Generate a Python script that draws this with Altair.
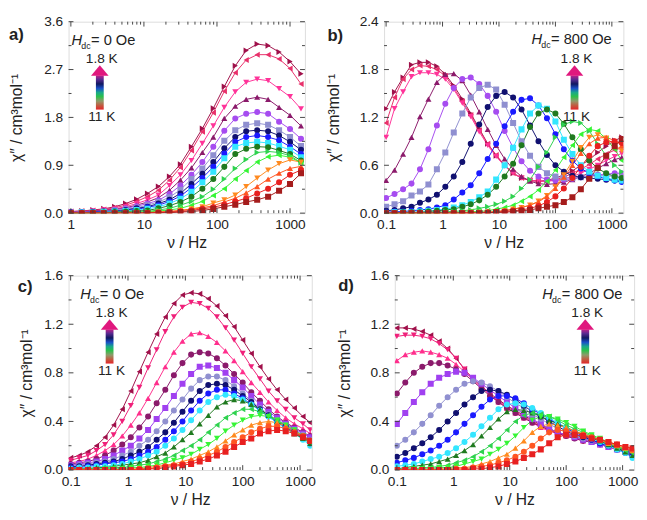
import altair as alt
import pandas as pd

FONT = "Liberation Sans"
INK = "#222222"
TICK = "#444444"

# ---------------- data ----------------
freq_a = [1, 1.41, 2, 2.82, 3.98, 5.62, 7.94, 11.2, 15.8, 22.4, 31.6, 44.7, 63.1, 89.1,
          126, 178, 251, 355, 501, 708, 1000, 1413]
freq_bcd = [0.1, 0.141, 0.2, 0.282, 0.398, 0.562, 0.794, 1.12, 1.58, 2.24, 3.16, 4.47, 6.31,
            8.91, 12.6, 17.8, 25.1, 35.5, 50.1, 70.8, 100, 141, 200, 282, 398, 562, 794, 1122, 1500]

colors_16 = ["#a0104a", "#e8306a", "#ff3399", "#8b1a6b", "#a64cf0", "#8f8fd0", "#101070", "#1a1aff",
             "#33e6ff", "#1f7a1f", "#2fd24f", "#36f536", "#ff8a1f", "#ff5522", "#e82020", "#a51c1c"]
shapes_16 = ["triangle-right", "triangle-left", "triangle-down", "triangle-up", "circle", "square",
             "circle", "circle", "square", "circle", "triangle-right", "triangle-left",
             "triangle-down", "triangle-up", "circle", "square"]
colors_15 = ["#a0104a", "#f0207a", "#ff2e8c", "#8b1a6b", "#a040f0", "#9090d0", "#101070", "#1a1aff",
             "#33e6ff", "#1f7a1f", "#2fd24f", "#36f536", "#ff8a1f", "#ff5522", "#e82020"]
shapes_15 = ["triangle-left", "triangle-down", "triangle-up", "circle", "square", "circle", "circle",
             "circle", "circle", "triangle-up", "triangle-left", "triangle-down", "triangle-up",
             "circle", "square"]

chi_a = [
    [0.03, 0.04, 0.06, 0.08, 0.12, 0.18, 0.26, 0.37, 0.5, 0.69, 0.92, 1.25, 1.59, 1.97, 2.38, 2.77, 3.06, 3.18, 3.15, 3.03, 2.85, 2.62],
    [0.03, 0.04, 0.05, 0.07, 0.1, 0.15, 0.22, 0.31, 0.43, 0.62, 0.86, 1.18, 1.53, 1.89, 2.29, 2.64, 2.88, 2.98, 2.98, 2.9, 2.72, 2.43],
    [0.02, 0.03, 0.04, 0.06, 0.08, 0.12, 0.18, 0.25, 0.34, 0.52, 0.72, 0.99, 1.31, 1.64, 1.99, 2.28, 2.46, 2.52, 2.49, 2.34, 2.19, 1.96],
    [0.02, 0.03, 0.04, 0.05, 0.07, 0.1, 0.15, 0.21, 0.29, 0.43, 0.62, 0.85, 1.14, 1.43, 1.78, 2.01, 2.14, 2.18, 2.14, 1.99, 1.84, 1.64],
    [0.02, 0.02, 0.03, 0.04, 0.06, 0.09, 0.13, 0.18, 0.24, 0.36, 0.52, 0.72, 0.96, 1.25, 1.55, 1.78, 1.87, 1.9, 1.87, 1.72, 1.58, 1.4],
    [0.01, 0.02, 0.02, 0.03, 0.05, 0.07, 0.1, 0.15, 0.21, 0.3, 0.44, 0.64, 0.84, 1.09, 1.36, 1.56, 1.66, 1.69, 1.66, 1.56, 1.43, 1.26],
    [0.01, 0.01, 0.02, 0.03, 0.04, 0.06, 0.09, 0.12, 0.18, 0.25, 0.37, 0.55, 0.74, 0.96, 1.22, 1.43, 1.54, 1.56, 1.54, 1.46, 1.34, 1.19],
    [0.01, 0.01, 0.02, 0.02, 0.03, 0.05, 0.07, 0.11, 0.15, 0.22, 0.32, 0.48, 0.66, 0.87, 1.12, 1.34, 1.43, 1.46, 1.43, 1.37, 1.25, 1.11],
    [0.0, 0.01, 0.01, 0.02, 0.03, 0.04, 0.06, 0.08, 0.12, 0.18, 0.27, 0.4, 0.58, 0.78, 1.03, 1.25, 1.32, 1.34, 1.32, 1.26, 1.19, 1.05],
    [0, 0, 0.01, 0.01, 0.02, 0.03, 0.04, 0.05, 0.09, 0.14, 0.21, 0.31, 0.46, 0.64, 0.87, 1.11, 1.21, 1.25, 1.24, 1.18, 1.11, 0.99],
    [0, 0, 0, 0.01, 0.01, 0.02, 0.02, 0.03, 0.06, 0.09, 0.15, 0.22, 0.31, 0.45, 0.64, 0.84, 1.01, 1.14, 1.16, 1.14, 1.08, 0.95],
    [0, 0, 0, 0, 0.01, 0.01, 0.02, 0.02, 0.04, 0.06, 0.09, 0.15, 0.22, 0.33, 0.46, 0.64, 0.8, 0.96, 1.06, 1.09, 1.05, 0.95],
    [0, 0, 0, 0, 0, 0, 0.01, 0.01, 0.02, 0.03, 0.05, 0.08, 0.12, 0.19, 0.25, 0.34, 0.5, 0.66, 0.81, 0.93, 1.0, 0.96],
    [0, 0, 0, 0, 0, 0, 0, 0.01, 0.02, 0.03, 0.05, 0.07, 0.1, 0.14, 0.21, 0.28, 0.38, 0.5, 0.64, 0.75, 0.84, 0.88],
    [0, 0, 0, 0, 0, 0, 0, 0, 0.01, 0.02, 0.03, 0.05, 0.08, 0.11, 0.16, 0.22, 0.28, 0.37, 0.46, 0.58, 0.72, 0.81],
    [0, 0, 0, 0, 0, 0, 0, 0, 0, 0.01, 0.02, 0.03, 0.05, 0.08, 0.12, 0.16, 0.21, 0.25, 0.31, 0.42, 0.55, 0.75],
]

chi_b = [
    [1.31, 1.52, 1.7, 1.86, 1.89, 1.89, 1.84, 1.74, 1.6, 1.43, 1.25, 1.06, 0.87, 0.72, 0.6, 0.5, 0.44, 0.41, 0.4, 0.41, 0.44, 0.48, 0.53, 0.6, 0.67, 0.76, 0.84, 0.91, 0.95],
    [1.13, 1.45, 1.68, 1.8, 1.85, 1.84, 1.8, 1.72, 1.57, 1.4, 1.23, 1.04, 0.87, 0.73, 0.6, 0.5, 0.44, 0.41, 0.4, 0.4, 0.42, 0.45, 0.5, 0.55, 0.61, 0.68, 0.74, 0.79, 0.82],
    [0.95, 1.31, 1.52, 1.71, 1.76, 1.76, 1.74, 1.68, 1.55, 1.38, 1.21, 1.02, 0.85, 0.71, 0.59, 0.5, 0.44, 0.41, 0.4, 0.4, 0.41, 0.43, 0.46, 0.5, 0.55, 0.6, 0.66, 0.71, 0.75],
    [0.41, 0.54, 0.74, 0.95, 1.21, 1.43, 1.64, 1.74, 1.75, 1.66, 1.48, 1.27, 1.05, 0.85, 0.68, 0.55, 0.46, 0.4, 0.37, 0.36, 0.37, 0.39, 0.42, 0.46, 0.5, 0.56, 0.62, 0.67, 0.7],
    [0.19, 0.24, 0.3, 0.37, 0.55, 0.8, 1.1, 1.37, 1.57, 1.68, 1.7, 1.62, 1.47, 1.27, 1.03, 0.82, 0.65, 0.53, 0.46, 0.42, 0.41, 0.42, 0.43, 0.45, 0.47, 0.48, 0.49, 0.5, 0.5],
    [0.08, 0.11, 0.15, 0.22, 0.27, 0.36, 0.55, 0.76, 1.01, 1.25, 1.45, 1.57, 1.61, 1.55, 1.36, 1.13, 0.9, 0.72, 0.58, 0.5, 0.46, 0.44, 0.44, 0.45, 0.46, 0.47, 0.47, 0.46, 0.45],
    [0.03, 0.04, 0.06, 0.08, 0.13, 0.17, 0.23, 0.33, 0.46, 0.64, 0.87, 1.11, 1.33, 1.47, 1.52, 1.45, 1.3, 1.1, 0.9, 0.73, 0.6, 0.52, 0.47, 0.45, 0.44, 0.43, 0.42, 0.41, 0.4],
    [0.01, 0.02, 0.02, 0.03, 0.04, 0.05, 0.07, 0.1, 0.17, 0.26, 0.35, 0.5, 0.68, 0.87, 1.09, 1.27, 1.42, 1.44, 1.35, 1.19, 0.99, 0.8, 0.66, 0.56, 0.5, 0.46, 0.43, 0.41, 0.39],
    [0, 0.01, 0.01, 0.01, 0.02, 0.03, 0.04, 0.05, 0.07, 0.1, 0.14, 0.2, 0.27, 0.42, 0.6, 0.82, 1.05, 1.25, 1.35, 1.31, 1.15, 0.92, 0.74, 0.6, 0.52, 0.47, 0.44, 0.42, 0.41],
    [0, 0, 0.01, 0.01, 0.01, 0.02, 0.03, 0.04, 0.05, 0.08, 0.11, 0.16, 0.23, 0.33, 0.46, 0.62, 0.85, 1.08, 1.25, 1.3, 1.25, 1.12, 0.95, 0.8, 0.66, 0.56, 0.5, 0.46, 0.44],
    [0, 0, 0, 0, 0, 0.01, 0.01, 0.02, 0.02, 0.03, 0.04, 0.06, 0.08, 0.11, 0.15, 0.21, 0.31, 0.42, 0.58, 0.76, 0.95, 1.11, 1.15, 1.13, 1.03, 0.87, 0.72, 0.6, 0.52],
    [0, 0, 0, 0, 0, 0, 0, 0.01, 0.01, 0.01, 0.02, 0.02, 0.03, 0.05, 0.07, 0.1, 0.15, 0.21, 0.29, 0.4, 0.54, 0.7, 0.85, 0.99, 1.05, 1.03, 0.93, 0.8, 0.66],
    [0, 0, 0, 0, 0, 0, 0, 0, 0, 0, 0.01, 0.01, 0.01, 0.02, 0.03, 0.05, 0.07, 0.1, 0.15, 0.22, 0.33, 0.48, 0.65, 0.82, 0.95, 0.98, 0.94, 0.86, 0.78],
    [0, 0, 0, 0, 0, 0, 0, 0, 0, 0, 0, 0.01, 0.01, 0.02, 0.03, 0.05, 0.07, 0.1, 0.14, 0.21, 0.31, 0.45, 0.6, 0.75, 0.87, 0.94, 0.95, 0.91, 0.85],
    [0, 0, 0, 0, 0, 0, 0, 0, 0, 0, 0, 0, 0.01, 0.01, 0.02, 0.03, 0.04, 0.06, 0.09, 0.14, 0.21, 0.31, 0.44, 0.58, 0.72, 0.84, 0.89, 0.9, 0.88],
    [0, 0, 0, 0, 0, 0, 0, 0, 0, 0, 0, 0, 0, 0.01, 0.01, 0.02, 0.03, 0.04, 0.06, 0.08, 0.1, 0.14, 0.2, 0.3, 0.43, 0.57, 0.72, 0.84, 0.93],
]

chi_c = [
    [0.1, 0.12, 0.15, 0.2, 0.27, 0.37, 0.5, 0.65, 0.81, 0.97, 1.12, 1.26, 1.37, 1.44, 1.46, 1.45, 1.41, 1.35, 1.27, 1.18, 1.07, 0.96, 0.85, 0.75, 0.66, 0.58, 0.51, 0.44, 0.39],
    [0.08, 0.1, 0.12, 0.16, 0.21, 0.29, 0.4, 0.53, 0.68, 0.84, 0.99, 1.14, 1.26, 1.34, 1.38, 1.37, 1.33, 1.26, 1.17, 1.07, 0.96, 0.85, 0.75, 0.65, 0.57, 0.5, 0.43, 0.38, 0.33],
    [0.06, 0.07, 0.09, 0.12, 0.16, 0.21, 0.28, 0.37, 0.47, 0.59, 0.72, 0.85, 0.97, 1.06, 1.12, 1.13, 1.1, 1.05, 0.98, 0.9, 0.81, 0.72, 0.64, 0.56, 0.49, 0.43, 0.38, 0.34, 0.3],
    [0.05, 0.06, 0.07, 0.09, 0.12, 0.16, 0.21, 0.27, 0.35, 0.44, 0.55, 0.66, 0.78, 0.88, 0.95, 0.97, 0.96, 0.92, 0.86, 0.79, 0.72, 0.64, 0.57, 0.5, 0.44, 0.39, 0.35, 0.31, 0.28],
    [0.04, 0.05, 0.06, 0.07, 0.09, 0.12, 0.16, 0.2, 0.26, 0.33, 0.42, 0.51, 0.61, 0.71, 0.79, 0.85, 0.86, 0.84, 0.8, 0.74, 0.68, 0.61, 0.54, 0.48, 0.43, 0.38, 0.34, 0.3, 0.27],
    [0.03, 0.04, 0.05, 0.06, 0.07, 0.09, 0.12, 0.15, 0.2, 0.25, 0.32, 0.4, 0.49, 0.58, 0.67, 0.74, 0.77, 0.77, 0.74, 0.69, 0.63, 0.57, 0.51, 0.46, 0.41, 0.37, 0.33, 0.29, 0.25],
    [0.03, 0.03, 0.04, 0.05, 0.06, 0.07, 0.09, 0.12, 0.15, 0.19, 0.25, 0.31, 0.39, 0.48, 0.57, 0.65, 0.7, 0.71, 0.7, 0.66, 0.61, 0.56, 0.5, 0.45, 0.4, 0.36, 0.32, 0.28, 0.24],
    [0.02, 0.02, 0.03, 0.04, 0.05, 0.06, 0.07, 0.09, 0.12, 0.15, 0.19, 0.25, 0.32, 0.4, 0.49, 0.57, 0.63, 0.66, 0.66, 0.63, 0.59, 0.54, 0.49, 0.44, 0.39, 0.35, 0.31, 0.27, 0.23],
    [0.01, 0.02, 0.02, 0.03, 0.03, 0.04, 0.05, 0.07, 0.09, 0.12, 0.15, 0.2, 0.26, 0.33, 0.41, 0.49, 0.56, 0.6, 0.62, 0.61, 0.58, 0.54, 0.49, 0.44, 0.39, 0.34, 0.3, 0.25, 0.2],
    [0.01, 0.01, 0.01, 0.02, 0.02, 0.03, 0.04, 0.05, 0.06, 0.08, 0.11, 0.14, 0.19, 0.25, 0.31, 0.38, 0.45, 0.52, 0.56, 0.58, 0.57, 0.54, 0.5, 0.45, 0.4, 0.35, 0.3, 0.26, 0.22],
    [0, 0, 0.01, 0.01, 0.01, 0.02, 0.02, 0.03, 0.04, 0.05, 0.07, 0.09, 0.12, 0.16, 0.2, 0.25, 0.31, 0.37, 0.43, 0.47, 0.5, 0.5, 0.48, 0.45, 0.41, 0.36, 0.32, 0.27, 0.23],
    [0, 0, 0, 0, 0.01, 0.01, 0.01, 0.02, 0.02, 0.03, 0.04, 0.06, 0.08, 0.1, 0.13, 0.17, 0.21, 0.26, 0.32, 0.37, 0.41, 0.44, 0.45, 0.44, 0.41, 0.37, 0.33, 0.28, 0.24],
    [0, 0, 0, 0, 0, 0, 0.01, 0.01, 0.01, 0.02, 0.03, 0.04, 0.05, 0.07, 0.09, 0.12, 0.15, 0.19, 0.24, 0.29, 0.33, 0.37, 0.39, 0.4, 0.39, 0.36, 0.32, 0.28, 0.24],
    [0, 0, 0, 0, 0, 0, 0, 0, 0.01, 0.01, 0.02, 0.03, 0.04, 0.05, 0.07, 0.09, 0.12, 0.15, 0.19, 0.23, 0.27, 0.31, 0.34, 0.36, 0.36, 0.34, 0.31, 0.28, 0.24],
    [0, 0, 0, 0, 0, 0, 0, 0, 0, 0.01, 0.01, 0.02, 0.03, 0.04, 0.05, 0.07, 0.09, 0.12, 0.15, 0.19, 0.23, 0.26, 0.3, 0.32, 0.33, 0.32, 0.3, 0.27, 0.24],
]

chi_d = [
    [1.17, 1.17, 1.16, 1.14, 1.11, 1.06, 1.0, 0.92, 0.83, 0.75, 0.69, 0.63, 0.58, 0.53, 0.49, 0.45, 0.41, 0.37, 0.34, 0.31, 0.29, 0.27, 0.26, 0.24, 0.23, 0.21, 0.19, 0.17, 0.16],
    [1.1, 1.11, 1.11, 1.1, 1.08, 1.04, 0.99, 0.92, 0.83, 0.75, 0.69, 0.62, 0.57, 0.52, 0.48, 0.44, 0.4, 0.36, 0.33, 0.3, 0.28, 0.26, 0.25, 0.23, 0.22, 0.2, 0.18, 0.16, 0.15],
    [0.9, 0.95, 0.97, 0.98, 0.97, 0.95, 0.92, 0.87, 0.81, 0.74, 0.68, 0.62, 0.56, 0.51, 0.47, 0.43, 0.39, 0.35, 0.32, 0.3, 0.28, 0.26, 0.24, 0.23, 0.21, 0.19, 0.17, 0.16, 0.14],
    [0.63, 0.72, 0.8, 0.85, 0.88, 0.88, 0.86, 0.83, 0.79, 0.73, 0.67, 0.61, 0.56, 0.51, 0.47, 0.43, 0.39, 0.36, 0.33, 0.3, 0.28, 0.26, 0.24, 0.23, 0.21, 0.19, 0.17, 0.15, 0.14],
    [0.38, 0.47, 0.56, 0.64, 0.71, 0.76, 0.79, 0.81, 0.8, 0.76, 0.71, 0.66, 0.61, 0.56, 0.51, 0.46, 0.42, 0.38, 0.34, 0.31, 0.29, 0.27, 0.25, 0.23, 0.21, 0.19, 0.17, 0.15, 0.13],
    [0.2, 0.25, 0.31, 0.38, 0.45, 0.53, 0.6, 0.66, 0.71, 0.73, 0.72, 0.69, 0.65, 0.6, 0.55, 0.51, 0.46, 0.42, 0.38, 0.34, 0.31, 0.28, 0.26, 0.24, 0.22, 0.2, 0.17, 0.15, 0.13],
    [0.11, 0.14, 0.18, 0.22, 0.27, 0.33, 0.4, 0.47, 0.54, 0.6, 0.65, 0.66, 0.65, 0.62, 0.58, 0.53, 0.48, 0.44, 0.4, 0.36, 0.32, 0.29, 0.27, 0.25, 0.22, 0.2, 0.18, 0.15, 0.13],
    [0.06, 0.08, 0.1, 0.13, 0.16, 0.2, 0.25, 0.31, 0.38, 0.45, 0.52, 0.58, 0.61, 0.61, 0.59, 0.55, 0.5, 0.46, 0.42, 0.38, 0.34, 0.31, 0.28, 0.25, 0.22, 0.2, 0.17, 0.14, 0.11],
    [0.03, 0.04, 0.05, 0.07, 0.09, 0.11, 0.14, 0.18, 0.23, 0.29, 0.36, 0.43, 0.5, 0.54, 0.55, 0.54, 0.51, 0.47, 0.43, 0.39, 0.35, 0.32, 0.29, 0.26, 0.23, 0.2, 0.17, 0.14, 0.1],
    [0.01, 0.02, 0.03, 0.04, 0.05, 0.07, 0.09, 0.12, 0.16, 0.21, 0.28, 0.35, 0.42, 0.48, 0.5, 0.49, 0.47, 0.44, 0.41, 0.38, 0.35, 0.32, 0.29, 0.26, 0.24, 0.21, 0.18, 0.15, 0.12],
    [0, 0.01, 0.01, 0.02, 0.02, 0.03, 0.04, 0.06, 0.08, 0.11, 0.15, 0.2, 0.26, 0.33, 0.4, 0.45, 0.47, 0.46, 0.44, 0.41, 0.37, 0.34, 0.31, 0.28, 0.25, 0.22, 0.19, 0.16, 0.14],
    [0, 0, 0.01, 0.01, 0.01, 0.02, 0.02, 0.03, 0.05, 0.07, 0.09, 0.13, 0.17, 0.22, 0.28, 0.35, 0.41, 0.44, 0.44, 0.42, 0.39, 0.36, 0.32, 0.29, 0.26, 0.23, 0.2, 0.17, 0.15],
    [0, 0, 0, 0, 0, 0.01, 0.01, 0.02, 0.02, 0.03, 0.05, 0.07, 0.1, 0.13, 0.18, 0.24, 0.31, 0.36, 0.38, 0.37, 0.35, 0.32, 0.3, 0.27, 0.25, 0.22, 0.2, 0.18, 0.16],
    [0, 0, 0, 0, 0, 0, 0, 0.01, 0.01, 0.02, 0.03, 0.04, 0.06, 0.08, 0.11, 0.15, 0.2, 0.26, 0.31, 0.33, 0.32, 0.31, 0.29, 0.27, 0.25, 0.23, 0.21, 0.19, 0.17],
    [0, 0, 0, 0, 0, 0, 0, 0, 0, 0.01, 0.01, 0.02, 0.03, 0.05, 0.07, 0.1, 0.13, 0.17, 0.22, 0.27, 0.29, 0.29, 0.28, 0.26, 0.25, 0.23, 0.21, 0.19, 0.18],
]

xmajor_a = [1, 10, 100, 1000]
xminor_a = [2, 3, 4, 5, 6, 7, 8, 9, 20, 30, 40, 50, 60, 70, 80, 90, 200, 300, 400, 500, 600, 700, 800, 900]
xmajor_b = [0.1, 1, 10, 100, 1000]
xminor_b = [0.2, 0.3, 0.4, 0.5, 0.6, 0.7, 0.8, 0.9] + xminor_a
ymajor_a = [0, 0.9, 1.8, 2.7, 3.6]
yminor_a = [0.45, 1.35, 2.25, 3.15]
ymajor_b = [0, 0.6, 1.2, 1.8, 2.4]
yminor_b = [0.3, 0.9, 1.5, 2.1]
ymajor_c = [0, 0.4, 0.8, 1.2, 1.6]
yminor_c = [0.2, 0.6, 1.0, 1.4]

arrow_stops = [("#e3262a", 0.0), ("#c25a40", 0.12), ("#8f9a6a", 0.25), ("#2cc04a", 0.38),
               ("#19a88a", 0.5), ("#1a50c8", 0.62), ("#101860", 0.75), ("#5a2a90", 0.88),
               ("#c0208a", 1.0)]
ONE = pd.DataFrame({"k": [0]})


def txt(x, y, s, size=15, weight="normal", style="normal", align="left"):
    return alt.Chart(ONE).mark_text(
        text=s, font=FONT, fontSize=size, fontWeight=weight, fontStyle=style,
        align=align, baseline="alphabetic", color=INK
    ).encode(x=alt.value(x), y=alt.value(y))


def legend_layers(cx, label, hx, field_text):
    layers = []
    layers.append(txt(label[0], label[1], label[2], size=17, weight="bold"))
    layers.append(txt(hx[0], hx[1], "H", size=15, style="italic"))
    layers.append(txt(hx[0] + 10, hx[1] + 4, "dc", size=9))
    layers.append(txt(hx[0] + 20, hx[1], field_text, size=15))
    grad = alt.Gradient(gradient="linear",
                        stops=[alt.GradientStop(color=c, offset=o) for c, o in arrow_stops],
                        x1=0, x2=0, y1=1, y2=0)
    layers.append(alt.Chart(ONE).mark_rect(color=grad).encode(
        x=alt.value(cx - 4), x2=alt.value(cx + 4), y=alt.value(55), y2=alt.value(90)))
    layers.append(alt.Chart(ONE).mark_point(
        shape="M-1,0.6L0,-0.6L1,0.6Z", filled=True, size=324, color="#e0187e", opacity=1
    ).encode(x=alt.value(cx), y=alt.value(50)))
    layers.append(txt(cx + 2, 42, "1.8 K", size=14, align="center"))
    layers.append(txt(cx + 2, 102, "11 K", size=14, align="center"))
    return layers


def make_panel(freqs, chis, colors, shapes, xdom, xmajor, xminor, ydom, ymajor, yminor,
               w, h, tpad, ann):
    rows = []
    for i, ser in enumerate(chis):
        for f, c in zip(freqs, ser):
            rows.append({"f": f, "chi": c, "s": i, "col": colors[i], "shp": shapes[i]})
    df = pd.DataFrame(rows)
    xs = alt.Scale(type="log", domain=xdom, nice=False)
    ys = alt.Scale(domain=ydom, nice=False, zero=True)
    xax = alt.Axis(values=xmajor, format="~g", ticks=False, tickSize=0, domain=False, grid=False,
                   labelFont=FONT, labelFontSize=14, labelColor=INK, labelPadding=5,
                   titleFont=FONT, titleFontSize=16, titleFontWeight="normal", titleColor=INK,
                   titlePadding=3)
    yax = alt.Axis(values=ymajor, format=".1f", ticks=False, tickSize=0, domain=False, grid=False,
                   labelFont=FONT, labelFontSize=14, labelColor=INK, labelPadding=6,
                   titleFont=FONT, titleFontSize=16, titleFontWeight="normal", titleColor=INK,
                   titlePadding=tpad)
    X = alt.X("f:Q", scale=xs, axis=xax, title="ν / Hz")
    Y = alt.Y("chi:Q", scale=ys, axis=yax, title="χ″ / cm³mol⁻¹")
    col = alt.Color("col:N", scale=None)

    lines = alt.Chart(df).mark_line(strokeWidth=1, clip=True).encode(X, Y, color=col, detail="s:N")
    pts = alt.Chart(df).mark_point(filled=True, size=38, opacity=1, clip=True).encode(
        X, Y, color=col, shape=alt.Shape("shp:N", scale=None))

    layers = [lines, pts]
    for vals, ln in ((xmajor, 5), (xminor, 3)):
        tdf = pd.DataFrame({"f": vals})
        layers.append(alt.Chart(tdf).mark_rule(color=TICK, strokeWidth=1).encode(
            X, y=alt.value(h), y2=alt.value(h - ln)))
        layers.append(alt.Chart(tdf).mark_rule(color=TICK, strokeWidth=1).encode(
            X, y=alt.value(0), y2=alt.value(ln)))
    for vals, ln in ((ymajor, 5), (yminor, 3)):
        tdf = pd.DataFrame({"chi": vals})
        layers.append(alt.Chart(tdf).mark_rule(color=TICK, strokeWidth=1).encode(
            Y, x=alt.value(0), x2=alt.value(ln)))
        layers.append(alt.Chart(tdf).mark_rule(color=TICK, strokeWidth=1).encode(
            Y, x=alt.value(w), x2=alt.value(w - ln)))
    layers += ann
    return alt.layer(*layers).properties(width=w, height=h)


WA, WB, WC, WD = 242, 245, 249, 245
H1, H2 = 196, 199

pa = make_panel(freq_a, chi_a, colors_16, shapes_16, [0.93, 1600], xmajor_a, xminor_a,
                [0, 3.6], ymajor_a, yminor_a, WA, H1, 20,
                legend_layers(32, (-61, 19, "a)"), (3, 24), "= 0 Oe"))
pb = make_panel(freq_bcd, chi_b, colors_16, shapes_16, [0.092, 1600], xmajor_b, xminor_b,
                [0, 2.4], ymajor_b, yminor_b, WB, H1, 18,
                legend_layers(195, (-58, 20, "b)"), (151, 23), "= 800 Oe"))
pc = make_panel(freq_bcd, chi_c, colors_15, shapes_15, [0.092, 1600], xmajor_b, xminor_b,
                [0, 1.6], ymajor_c, yminor_c, WC, H2, 9,
                legend_layers(42, (-52, 17, "c)"), (12, 24), "= 0 Oe"))
pd_ = make_panel(freq_bcd, chi_d, colors_15, shapes_15, [0.092, 1600], xmajor_b, xminor_b,
                 [0, 1.6], ymajor_c, yminor_c, WD, H2, 18,
                 legend_layers(195, (-58, 16, "d)"), (151, 24), "= 800 Oe"))

row1 = alt.hconcat(pa, pb, spacing=20)
row2 = alt.hconcat(pc, pd_, spacing=20)
chart = alt.vconcat(row1, row2, spacing=17, padding=0).configure_view(
    stroke="#444444", strokeWidth=1).configure(font=FONT)

chart.save("out.html", embed_options={"renderer": "svg", "actions": False})
